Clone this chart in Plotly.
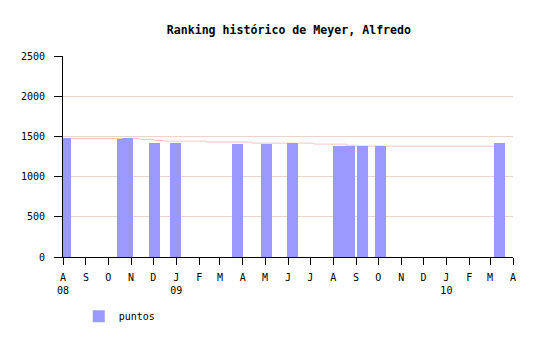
import plotly.graph_objects as go

# Bar data (ranking points)
bar_dates = ["2008-08-05", "2008-10-20", "2008-10-27", "2008-12-03", "2008-12-31",
             "2009-03-25", "2009-05-03", "2009-06-07", "2009-08-08", "2009-08-23",
             "2009-09-09", "2009-10-04", "2010-03-14"]
bar_values = [1480, 1465, 1480, 1420, 1420, 1405, 1405, 1420, 1380, 1380, 1380, 1380, 1420]

# Step line data
line_dates = ["2008-08-01", "2008-11-12", "2008-12-02", "2008-12-16", "2009-02-11",
              "2009-04-14", "2009-07-06", "2009-08-19", "2009-08-30", "2010-03-14"]
line_values = [1474, 1462, 1450, 1441, 1429, 1416, 1404, 1391, 1379, 1379]

# Tick labels
tick_dates = ["2008-08-01", "2008-09-01", "2008-10-01", "2008-11-01", "2008-12-01",
              "2009-01-01", "2009-02-01", "2009-03-01", "2009-04-01", "2009-05-01",
              "2009-06-01", "2009-07-01", "2009-08-01", "2009-09-01", "2009-10-01",
              "2009-11-01", "2009-12-01", "2010-01-01", "2010-02-01", "2010-03-01",
              "2010-04-01"]
tick_text = ["A<br>08", "S", "O", "N", "D", "J<br>09", "F", "M", "A", "M", "J", "J",
             "A", "S", "O", "N", "D", "J<br>10", "F", "M", "A"]
y_ticks = [0, 500, 1000, 1500, 2000, 2500]

BAR_WIDTH_MS = 14.85 * 86400000
FONT = "DejaVu Sans Mono"
x_range = ["2008-08-01", "2010-04-01"]

fig = go.Figure()
fig.add_trace(go.Scatter(
    x=line_dates, y=line_values, mode="lines", line=dict(color="#ffc4c4", width=1, shape="hv"),
    showlegend=False, hoverinfo="skip", xaxis="x", yaxis="y"))
fig.add_trace(go.Bar(
    x=bar_dates, y=bar_values, width=[BAR_WIDTH_MS] * len(bar_dates),
    marker=dict(color="#9999ff", line=dict(width=0)), name="puntos",
    xaxis="x2", yaxis="y2"))

fig.update_layout(
    width=540, height=340,
    margin=dict(l=63, r=27, t=56, b=83, autoexpand=False),
    paper_bgcolor="white", plot_bgcolor="white",
    font=dict(family=FONT, size=10, color="black"),
    title=dict(text="<b>Ranking histórico de Meyer, Alfredo</b>",
               font=dict(family=FONT, size=11.6, color="black"),
               x=0.535, xanchor="center", y=1 - 30 / 340, yanchor="middle"),
    xaxis=dict(type="date", range=x_range, tickmode="array", tickvals=tick_dates,
               ticktext=tick_text, ticks="outside", ticklen=7, tickcolor="black",
               showline=True, linecolor="black", linewidth=1, showgrid=False,
               zeroline=False, tickangle=0, tickfont=dict(size=10), ticklabelstandoff=4,
               automargin=False),
    yaxis=dict(range=[0, 2500], tickmode="array", tickvals=y_ticks, ticks="outside",
               ticklen=8, tickcolor="black", showline=True, linecolor="black",
               linewidth=1, showgrid=True, gridcolor="#e8d6cc", gridwidth=1,
               zeroline=False, tickfont=dict(size=10), ticklabelstandoff=7,
               automargin=False),
    xaxis2=dict(type="date", range=x_range, overlaying="x", visible=False),
    yaxis2=dict(range=[0, 2500], overlaying="y", visible=False),
    showlegend=True,
    legend=dict(orientation="h", x=0.035, xanchor="left", y=-0.223, yanchor="top",
                font=dict(family=FONT, size=10), bgcolor="rgba(0,0,0,0)",
                itemwidth=30),
    bargap=0,
)

fig.write_html("out.html")
